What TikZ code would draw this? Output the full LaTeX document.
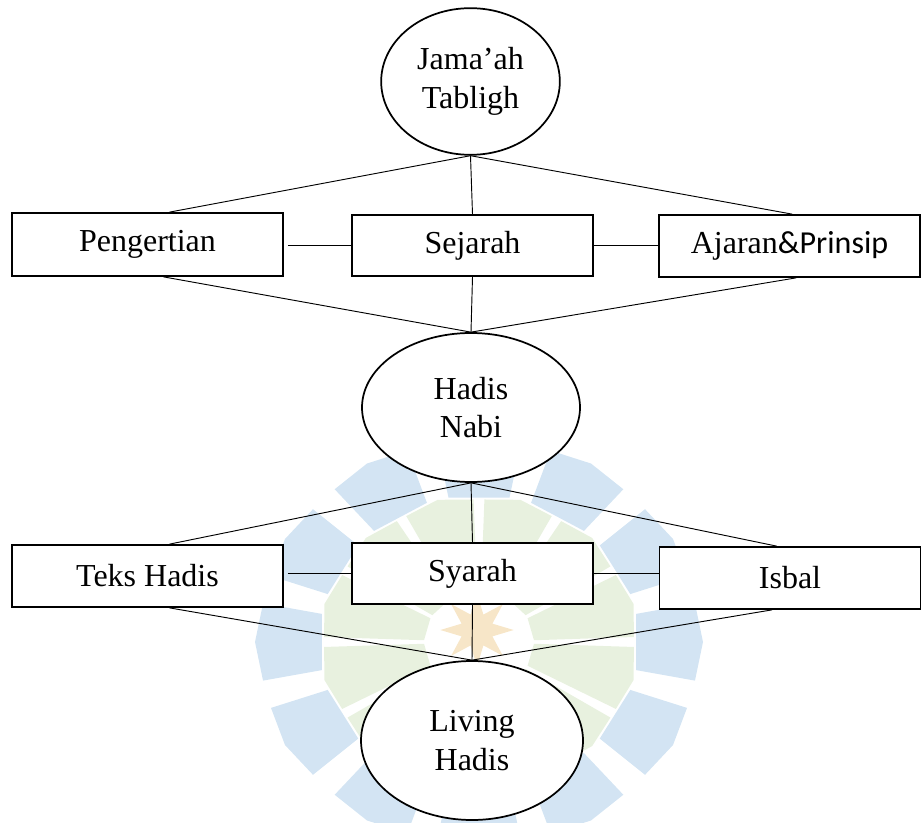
\documentclass[tikz,border=0pt]{standalone}
\usepackage{fontspec}
\setmainfont{Liberation Serif}
\newfontfamily\calibri{Carlito}
\usepackage{tikz}
\usetikzlibrary{shapes.geometric}

\definecolor{wmblue}{RGB}{211,228,243}
\definecolor{wmgreen}{RGB}{232,241,223}
\definecolor{wmstar}{RGB}{247,230,200}

\tikzset{
  oval/.style={draw, ellipse, fill=white, line width=1.3pt, inner sep=0pt, align=center, font=\fontsize{24}{28.8}\selectfont},
  topic/.style={draw, rectangle, fill=white, line width=1.3pt, inner sep=0pt, font=\fontsize{24}{28.8}\selectfont},
  link/.style={line width=0.7pt}
}

\begin{document}
\begin{tikzpicture}[x=0.75pt,y=0.75pt,yscale=-1,xscale=1]
\useasboundingbox (0,0) rectangle (921,823);

%Watermark: green segments
\foreach \a in {15,45,...,345}
  \fill[wmgreen] ({479+55*cos(\a-13)},{642+0.92*55*sin(\a-13)}) -- ({479+155*cos(\a-13)},{642+0.92*155*sin(\a-13)}) -- ({479+160*cos(\a)},{642+0.92*160*sin(\a)}) -- ({479+155*cos(\a+13)},{642+0.92*155*sin(\a+13)}) -- ({479+55*cos(\a+13)},{642+0.92*55*sin(\a+13)}) -- cycle ;
%Watermark: blue ring
\foreach \a in {0,30,...,330}
  \fill[wmblue] ({479+160*cos(\a-11)},{642+0.92*160*sin(\a-11)}) -- ({479+220*cos(\a-11)},{642+0.92*220*sin(\a-11)}) -- ({479+224*cos(\a)},{642+0.92*224*sin(\a)}) -- ({479+220*cos(\a+11)},{642+0.92*220*sin(\a+11)}) -- ({479+160*cos(\a+11)},{642+0.92*160*sin(\a+11)}) -- cycle ;
%Watermark: star
\node[star, star points=8, star point ratio=2.2, fill=wmstar, minimum size=55pt, inner sep=0pt] (wmstar) at (477,630) {};

%Shape: Ellipse [Jama'ah Tabligh]
\node[oval, minimum width=134pt, minimum height=110pt] (jt) at (470.5,81.5) {Jama’ah\\Tabligh};

%Shape: Rectangle [first row]
\node[topic, minimum width=203.25pt, minimum height=47.25pt] (peng) at (147.5,244.5) {Pengertian};
\node[topic, minimum width=180.75pt, minimum height=45.75pt] (sej) at (472.5,245.5) {Sejarah};
\node[topic, minimum width=195.75pt, minimum height=46.5pt] (ajr) at (789.5,246) {Ajaran{\calibri\&Prinsip}};

%Shape: Ellipse [Hadis Nabi]
\node[oval, minimum width=163.5pt, minimum height=111.75pt] (hn) at (471,407.5) {Hadis\\Nabi};

%Shape: Rectangle [second row]
\node[topic, minimum width=203.25pt, minimum height=46.5pt] (teks) at (147.5,576) {Teks Hadis};
\node[topic, minimum width=180.75pt, minimum height=45.75pt] (sya) at (472.5,573.5) {Syarah};
\node[topic, minimum width=195.75pt, minimum height=46.5pt] (isb) at (790,578) {Isbal};

%Shape: Ellipse [Living Hadis]
\node[oval, minimum width=166.5pt, minimum height=119.25pt] (lh) at (472,740.5) {Living\\Hadis};

%Straight Lines [upper part]
\draw[link] (jt.south) -- ([xshift=16.5pt]peng.north) ;
\draw[link] (jt.south) -- (sej.north) ;
\draw[link] (jt.south) -- ([xshift=2pt]ajr.north) ;
\draw[link, shorten <=3pt] (sej.west -| peng.east) -- (sej.west) ;
\draw[link] (sej.east) -- (sej.east -| ajr.west) ;
\draw[link] ([xshift=12pt]peng.south) -- (hn.north) ;
\draw[link] (sej.south) -- (hn.north) ;
\draw[link] ([xshift=5pt]ajr.south) -- (hn.north) ;

%Straight Lines [lower part]
\draw[link] (hn.south) -- ([xshift=16.5pt]teks.north) ;
\draw[link] (hn.south) -- (sya.north) ;
\draw[link] (hn.south) -- ([xshift=-10pt]isb.north) ;
\draw[link, shorten <=3pt] (sya.west -| teks.east) -- (sya.west) ;
\draw[link] (sya.east) -- (sya.east -| isb.west) ;
\draw[link] ([xshift=16.5pt]teks.south) -- (lh.north) ;
\draw[link] (sya.south) -- (lh.north) ;
\draw[link] ([xshift=-13.5pt]isb.south) -- (lh.north) ;

\end{tikzpicture}
\end{document}
